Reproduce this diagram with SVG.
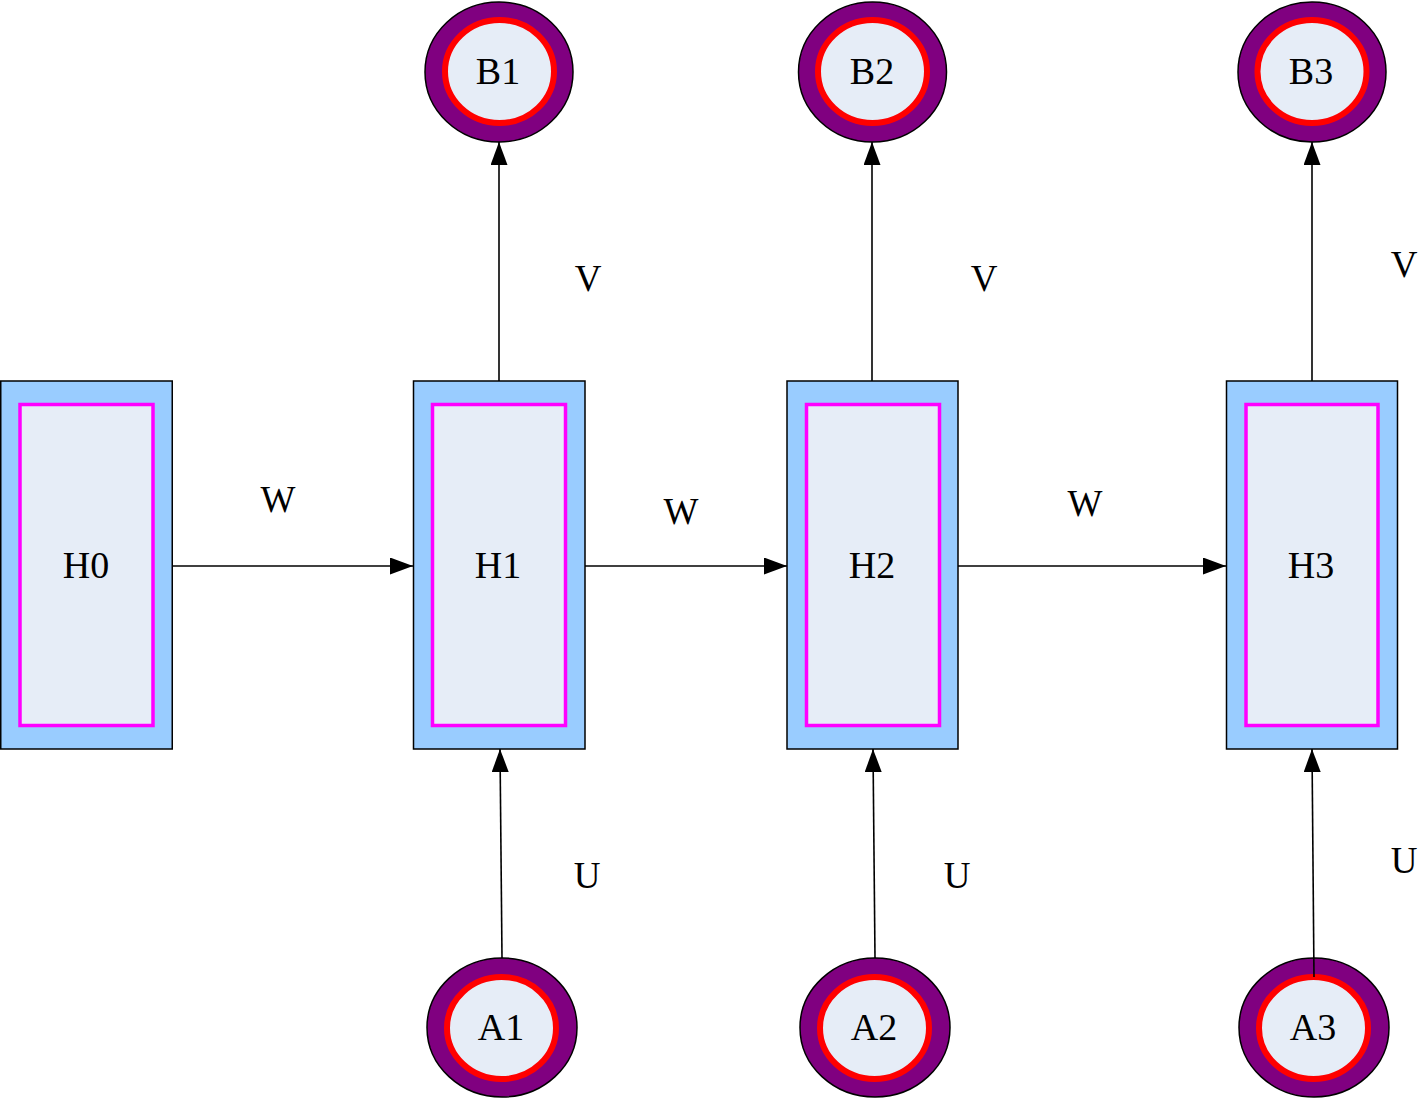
<svg xmlns="http://www.w3.org/2000/svg" width="1419" height="1099" viewBox="0 0 1419 1099">
<style>
.t{font-family:"Liberation Serif","Times New Roman",serif;font-size:38px;fill:#000;text-anchor:middle}
.lb{font-family:"Liberation Serif","Times New Roman",serif;font-size:37px;fill:#000;text-anchor:middle}
.ro{fill:#99CCFF;stroke:#000;stroke-width:1.5}
.ri{fill:#E6EDF7;stroke:#FF00FF;stroke-width:3.5}
.co{fill:#800080;stroke:#000;stroke-width:1.5}
.ci{fill:#E6EDF7;stroke:#FF0000;stroke-width:6}
.e{stroke:#000;stroke-width:1.6;fill:none;marker-end:url(#ah)}
</style>
<defs>
<marker id="ah" markerUnits="userSpaceOnUse" markerWidth="24" markerHeight="18" refX="23" refY="8.5" orient="auto">
<path d="M0,0 L23,8.5 L0,17 Z" fill="#000"/>
</marker>
</defs>
<g id="H0"><rect class="ro" x="0.75" y="381" width="171.5" height="368"/><rect class="ri" x="20" y="404.5" width="133" height="321"/><text class="t" x="86" y="578">H0</text></g>
<g id="H1"><rect class="ro" x="413.5" y="381" width="171.5" height="368"/><rect class="ri" x="432.5" y="404.5" width="133" height="321"/><text class="t" x="498" y="578">H1</text></g>
<g id="H2"><rect class="ro" x="787" y="381" width="171" height="368"/><rect class="ri" x="806.5" y="404.5" width="133" height="321"/><text class="t" x="872" y="578">H2</text></g>
<g id="H3"><rect class="ro" x="1226.5" y="381" width="171" height="368"/><rect class="ri" x="1246" y="404.5" width="132" height="321"/><text class="t" x="1311" y="578">H3</text></g>
<g id="B1"><ellipse class="co" cx="499" cy="72" rx="74" ry="70"/><ellipse class="ci" cx="499.5" cy="71.5" rx="54.5" ry="51.5"/><text class="t" x="498" y="84">B1</text></g>
<g id="B2"><ellipse class="co" cx="872.5" cy="72" rx="74" ry="70"/><ellipse class="ci" cx="872.5" cy="71.5" rx="54.5" ry="51.5"/><text class="t" x="872" y="84">B2</text></g>
<g id="B3"><ellipse class="co" cx="1312" cy="72" rx="74" ry="70"/><ellipse class="ci" cx="1312" cy="71.5" rx="54.5" ry="51.5"/><text class="t" x="1311" y="84">B3</text></g>
<g id="A1"><ellipse class="co" cx="502" cy="1027.5" rx="75" ry="69.5"/><ellipse class="ci" cx="501.5" cy="1028" rx="54.5" ry="51"/><text class="t" x="501" y="1040">A1</text></g>
<g id="A2"><ellipse class="co" cx="875" cy="1027.5" rx="75" ry="69.5"/><ellipse class="ci" cx="874.5" cy="1028" rx="54.5" ry="51"/><text class="t" x="874" y="1040">A2</text></g>
<g id="A3"><ellipse class="co" cx="1314" cy="1027.5" rx="75" ry="69.5"/><ellipse class="ci" cx="1313.5" cy="1028" rx="54.5" ry="51"/><text class="t" x="1313" y="1040">A3</text></g>
<g id="edges">
<line class="e" x1="172" y1="566" x2="413" y2="566"/>
<line class="e" x1="585" y1="566" x2="787" y2="566"/>
<line class="e" x1="958" y1="566" x2="1226" y2="566"/>
<line class="e" x1="499" y1="381" x2="499" y2="142"/>
<line class="e" x1="872" y1="381" x2="872" y2="142"/>
<line class="e" x1="1312" y1="381" x2="1312" y2="142"/>
<line class="e" x1="502" y1="958" x2="500" y2="749"/>
<line class="e" x1="875" y1="958" x2="873" y2="749"/>
<line class="e" x1="1314" y1="977" x2="1312" y2="749"/>
<text class="lb" x="278" y="512">W</text>
<text class="lb" x="681" y="524">W</text>
<text class="lb" x="1085" y="516">W</text>
<text class="lb" x="588" y="291">V</text>
<text class="lb" x="984" y="291">V</text>
<text class="lb" x="1404" y="277">V</text>
<text class="lb" x="587" y="888">U</text>
<text class="lb" x="957" y="888">U</text>
<text class="lb" x="1404" y="873">U</text>
</g>
</svg>
